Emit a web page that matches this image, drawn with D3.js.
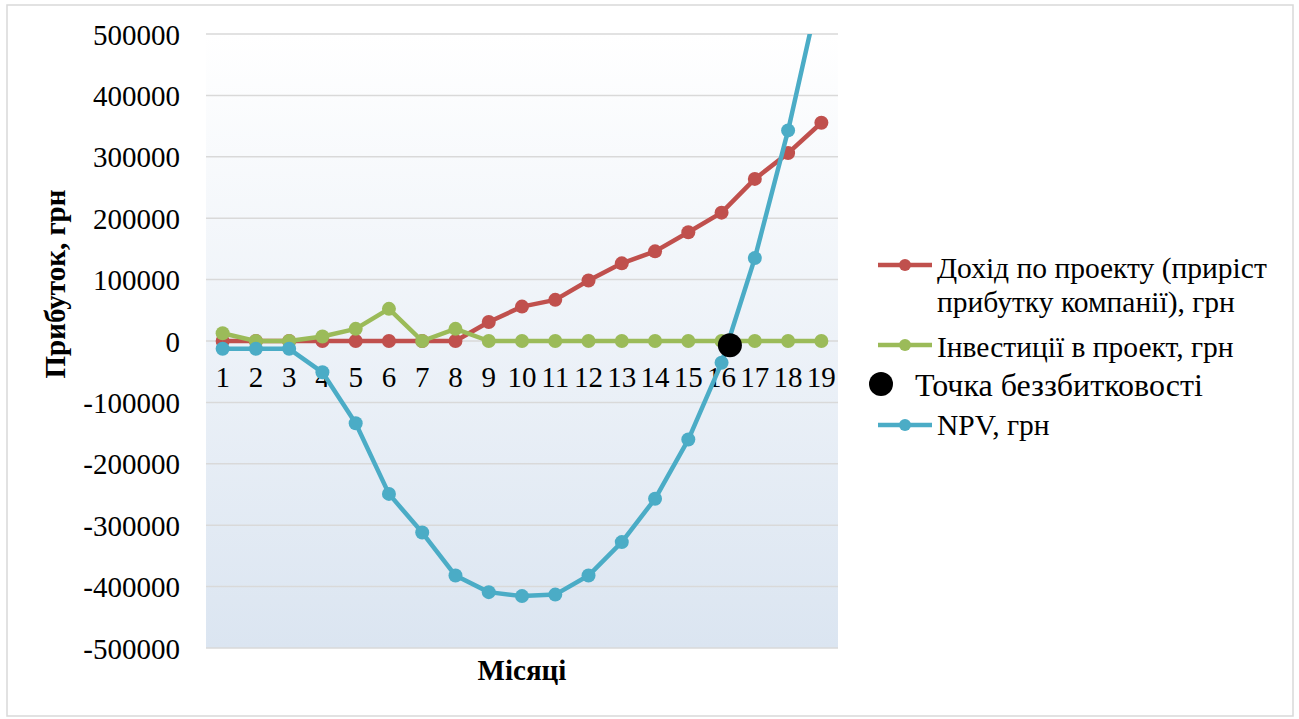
<!DOCTYPE html>
<html>
<head>
<meta charset="utf-8">
<script src="https://cdn.jsdelivr.net/npm/d3@7"></script>
<style>
  html, body { margin: 0; padding: 0; background: #fff; }
  svg { display: block; }
</style>
</head>
<body>
<svg id="chart" width="1299" height="719"></svg>
<script>
const months = [1,2,3,4,5,6,7,8,9,10,11,12,13,14,15,16,17,18,19];
const income = [0,0,0,0,0,0,0,0,31000,56000,67000,98500,126500,146000,177000,209000,264000,306000,355500];
const invest = [12700,0,0,7300,19800,52400,0,19800,0,0,0,0,0,0,0,0,0,0,0];
const npv = [-12700,-12700,-12700,-51000,-134000,-249000,-312000,-382000,-409000,-415500,-413000,-382000,-327500,-257000,-160500,-35500,135000,343000,584000];
const breakEven = [{month: 16.25, value: -7000}];
const yTicks = [500000,400000,300000,200000,100000,0,-100000,-200000,-300000,-400000,-500000];
const yTitle = "Прибуток, грн";
const xTitle = "Місяці";
const legendLabels = {
  income: ["Дохід по проекту (приріст", "прибутку компанії), грн"],
  invest: ["Інвестиції в проект, грн"],
  breakEven: ["Точка беззбитковості"],
  npv: ["NPV, грн"]
};
const colors = { income: "#c0504d", invest: "#9bbb59", npv: "#4bacc6", breakEven: "#000000" };
const FONT = "Liberation Serif";

const svg = d3.select("#chart");
const plot = { left: 206, right: 838, top: 34, bottom: 648 };

// outer border
svg.append("rect").attr("x", 7).attr("y", 5).attr("width", 1286).attr("height", 711)
  .attr("fill", "#fff").attr("stroke", "#d9d9d9").attr("stroke-width", 1.5);

const x = d3.scaleBand().domain(months).range([plot.left, plot.right]).paddingInner(0).paddingOuter(0);
const xc = m => plot.left + (m - 1 + 0.5) * x.step();
const y = d3.scaleLinear().domain([-500000, 500000]).range([plot.bottom, plot.top]);

// gradient background
const defs = svg.append("defs");
const grad = defs.append("linearGradient").attr("id", "bg").attr("x1", 0).attr("y1", 0).attr("x2", 0).attr("y2", 1);
grad.append("stop").attr("offset", "0%").attr("stop-color", "#ffffff");
grad.append("stop").attr("offset", "100%").attr("stop-color", "#dbe5f1");
defs.append("clipPath").attr("id", "clip").append("rect")
  .attr("x", plot.left - 20).attr("y", plot.top).attr("width", plot.right - plot.left + 40).attr("height", plot.bottom - plot.top);

svg.append("rect").attr("x", plot.left).attr("y", plot.top)
  .attr("width", plot.right - plot.left).attr("height", plot.bottom - plot.top)
  .attr("fill", "url(#bg)");

// gridlines
svg.append("g").selectAll("line").data(yTicks).join("line")
  .attr("x1", plot.left).attr("x2", plot.right)
  .attr("y1", d => y(d)).attr("y2", d => y(d))
  .attr("stroke", "#d9d9d9").attr("stroke-width", 1.5);

// y axis
const yAxis = d3.axisLeft(y).tickValues(yTicks).tickSize(0).tickPadding(0)
  .tickFormat(d => (d < 0 ? "-" : "") + Math.abs(d));
const gy = svg.append("g").attr("transform", `translate(${plot.left - 26},0)`).call(yAxis);
gy.select(".domain").remove();
gy.selectAll("text").style("font-family", FONT).style("font-size", "29px").attr("fill", "#000").attr("dy", "0.35em");

// x axis labels at zero line
const xAxis = d3.axisBottom(x).tickSize(0).tickPadding(0);
const gx = svg.append("g").attr("transform", `translate(0,${y(0)})`).call(xAxis);
gx.select(".domain").remove();
gx.selectAll("text").style("font-family", FONT).style("font-size", "29px").attr("fill", "#000").attr("y", 36).attr("dy", "0.35em");

// axis titles
svg.append("text").attr("transform", `translate(55,284) rotate(-90)`)
  .attr("text-anchor", "middle").attr("dy", "0.35em")
  .style("font-family", FONT).style("font-size", "29px").style("font-weight", "bold").text(yTitle);
svg.append("text").attr("x", (plot.left + plot.right) / 2).attr("y", 670)
  .attr("text-anchor", "middle").attr("dy", "0.35em")
  .style("font-family", FONT).style("font-size", "29px").style("font-weight", "bold").text(xTitle);

// series
const line = d3.line().x((d, i) => xc(months[i])).y(d => y(d));
const gS = svg.append("g").attr("clip-path", "url(#clip)");
function drawSeries(data, color) {
  gS.append("path").datum(data).attr("d", line)
    .attr("fill", "none").attr("stroke", color).attr("stroke-width", 4.5).attr("stroke-linejoin", "round");
  gS.append("g").selectAll("circle").data(data).join("circle")
    .attr("cx", (d, i) => xc(months[i])).attr("cy", d => y(d)).attr("r", 7).attr("fill", color);
}
drawSeries(income, colors.income);
drawSeries(invest, colors.invest);
drawSeries(npv, colors.npv);
gS.append("g").selectAll("circle").data(breakEven).join("circle")
  .attr("cx", d => xc(d.month)).attr("cy", d => y(d.value)).attr("r", 12).attr("fill", colors.breakEven);

// legend
const lg = svg.append("g");
function legLine(yy, color) {
  lg.append("line").attr("x1", 878).attr("x2", 932).attr("y1", yy).attr("y2", yy)
    .attr("stroke", color).attr("stroke-width", 4.5);
  lg.append("circle").attr("cx", 905).attr("cy", yy).attr("r", 6).attr("fill", color);
}
function legText(xx, yy, lines, size) {
  lines.forEach((t, i) => {
    lg.append("text").attr("x", xx).attr("y", yy + i * 34).attr("dy", "0.35em")
      .style("font-family", FONT).style("font-size", size + "px").attr("fill", "#000").text(t);
  });
}
legLine(265, colors.income); legText(937, 268, legendLabels.income, 29.5);
legLine(345, colors.invest); legText(937, 347, legendLabels.invest, 29.5);
lg.append("circle").attr("cx", 881).attr("cy", 384).attr("r", 12).attr("fill", colors.breakEven);
legText(915, 385, legendLabels.breakEven, 32);
legLine(425, colors.npv); legText(937, 425, legendLabels.npv, 29.5);
</script>
</body>
</html>
